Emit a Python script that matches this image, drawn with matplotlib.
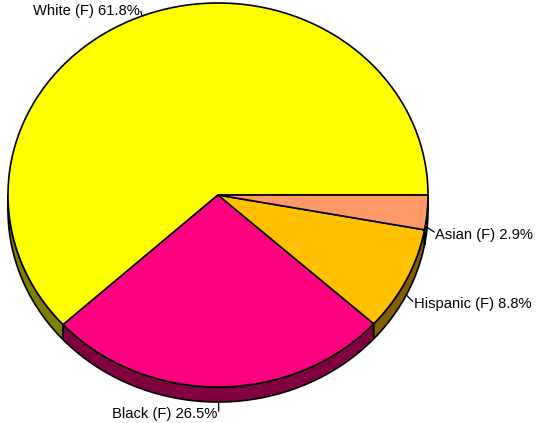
import numpy as np
import matplotlib.pyplot as plt
from matplotlib.patches import Polygon

labels = ['White (F)', 'Black (F)', 'Hispanic (F)', 'Asian (F)']
shares = [61.8, 26.5, 8.8, 2.9]
top_colors = ['#FFFF00', '#FF0080', '#FFC000', '#FF9966']
side_colors = ['#808000', '#800040', '#806000', '#804C33']

# layout of the pie in pixel space
cx, cy = 218, 195
rx, ry = 210, 192
depth = 15


def ell(t, dy=0):
    return np.column_stack([cx + rx * np.cos(t), cy - ry * np.sin(t) + dy])


fig = plt.figure(figsize=(5.36, 4.23), dpi=100)
ax = fig.add_axes([0, 0, 1, 1])
ax.set_xlim(0, 536)
ax.set_ylim(423, 0)
ax.axis('off')

fr = np.array(shares) / sum(shares)
edges = np.concatenate([[0], np.cumsum(fr)]) * 2 * np.pi

# side walls (front half only)
for i in range(len(shares)):
    a0, a1 = max(edges[i], np.pi), min(edges[i + 1], 2 * np.pi)
    if a1 <= a0:
        continue
    t = np.linspace(a0, a1, 200)
    pts = np.vstack([ell(t), ell(t[::-1], depth)])
    ax.add_patch(Polygon(pts, closed=True, fc=side_colors[i], ec='black', lw=1.2))

# top faces
for i in range(len(shares)):
    t = np.linspace(edges[i], edges[i + 1], 300)
    pts = np.vstack([[cx, cy], ell(t)])
    ax.add_patch(Polygon(pts, closed=True, fc=top_colors[i], ec='black', lw=1.2))

# labels with short leader lines
for i in range(len(shares)):
    m = (edges[i] + edges[i + 1]) / 2
    lower = np.sin(m) < 0
    dy = depth if lower else 0
    ax_, ay_ = ell(np.array([m]), dy)[0]
    ux, uy = np.cos(m), -np.sin(m)
    if lower:
        tx, ty = ax_ + 7 * ux, ay_ + 5 * uy + 4
    else:
        tx, ty = ax_ + 3 * ux, ay_ + 5 * uy
    ax.plot([ax_, tx], [ay_, ty], color='black', lw=0.9)
    ha = 'left' if np.cos(m) > 0.05 else 'right'
    ax.text(tx + (1 if ha == 'left' else -1), ty + (3 if lower else 0),
            f'{labels[i]} {shares[i]}%', ha=ha, va='center',
            fontsize=10.6, family='Liberation Sans')

fig.savefig('out.png', dpi=100)
